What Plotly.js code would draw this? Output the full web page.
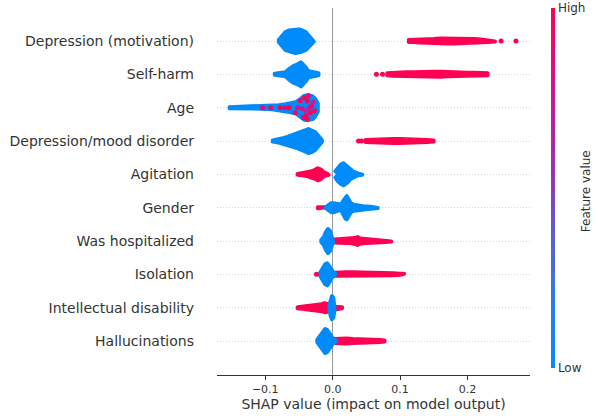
<!DOCTYPE html>
<html><head><meta charset="utf-8">
<script src="https://cdn.plot.ly/plotly-3.0.1.min.js"></script>
<style>html,body{margin:0;padding:0;background:#fff}
#chart path.js-line{stroke-linejoin:round;stroke-linecap:round}</style>
</head><body><div id="chart" style="width:598px;height:416px"></div>
<script>
// Features, top to bottom
const features = ["Depression (motivation)", "Self-harm", "Age", "Depression/mood disorder",
  "Agitation", "Gender", "Was hospitalized", "Isolation", "Intellectual disability", "Hallucinations"];

const xTickVals = [-0.1, 0, 0.1, 0.2];
const xTickText = ["\u22120.1", "0.0", "0.1", "0.2"];

// Swarm profiles: SHAP values along the swarm and swarm half-thickness (in rows)
// Depression (motivation)
const depMotLowX  = [-0.080, -0.075, -0.070, -0.065, -0.060, -0.055, -0.050, -0.045, -0.040, -0.035, -0.030, -0.028];
const depMotLowW  = [0.09, 0.21, 0.33, 0.375, 0.39, 0.42, 0.405, 0.375, 0.33, 0.21, 0.12, 0.075];
const depMotHighX = [0.113, 0.120, 0.130, 0.140, 0.150, 0.160, 0.170, 0.180, 0.190, 0.200, 0.210, 0.220, 0.230, 0.241];
const depMotHighW = [0.09, 0.09, 0.105, 0.12, 0.12, 0.135, 0.135, 0.135, 0.15, 0.135, 0.12, 0.105, 0.09, 0.075];
// Self-harm
const selfHarmLowX  = [-0.086, -0.070, -0.065, -0.059, -0.052, -0.047, -0.040, -0.036, -0.028, -0.021];
const selfHarmLowW  = [0.075, 0.12, 0.21, 0.30, 0.36, 0.42, 0.27, 0.15, 0.12, 0.09];
const selfHarmHighX = [0.081, 0.090, 0.100, 0.110, 0.120, 0.130, 0.140, 0.150, 0.160, 0.170, 0.180, 0.190, 0.200, 0.210, 0.220, 0.230];
const selfHarmHighW = [0.09, 0.105, 0.105, 0.12, 0.12, 0.135, 0.135, 0.135, 0.135, 0.12, 0.12, 0.12, 0.105, 0.105, 0.09, 0.09];
// Age
const ageLowX = [-0.153, -0.130, -0.107, -0.090, -0.080, -0.070, -0.062, -0.055, -0.050, -0.046, -0.042, -0.036, -0.030, -0.026, -0.022];
const ageLowW = [0.075, 0.09, 0.09, 0.105, 0.135, 0.165, 0.195, 0.225, 0.285, 0.36, 0.42, 0.435, 0.405, 0.33, 0.18];
// Depression/mood disorder
const depMoodLowX  = [-0.089, -0.080, -0.072, -0.067, -0.060, -0.053, -0.047, -0.041, -0.036, -0.031, -0.026, -0.021, -0.016];
const depMoodLowW  = [0.075, 0.105, 0.15, 0.18, 0.225, 0.27, 0.315, 0.375, 0.42, 0.39, 0.33, 0.21, 0.09];
const depMoodHighX = [0.049, 0.060, 0.070, 0.080, 0.090, 0.100, 0.110, 0.120, 0.130, 0.140, 0.150];
const depMoodHighW = [0.09, 0.105, 0.12, 0.12, 0.12, 0.12, 0.12, 0.105, 0.105, 0.09, 0.075];
// Agitation
const agitHighX = [-0.052, -0.045, -0.037, -0.031, -0.026, -0.022, -0.018, -0.013, -0.009, -0.006];
const agitHighW = [0.06, 0.09, 0.12, 0.15, 0.195, 0.24, 0.21, 0.12, 0.09, 0.075];
const agitLowX  = [0.004, 0.008, 0.012, 0.016, 0.022, 0.026, 0.030, 0.037, 0.044];
const agitLowW  = [0.15, 0.27, 0.345, 0.39, 0.30, 0.21, 0.15, 0.09, 0.06];
// Gender
const genderHighX = [-0.022, -0.016, -0.010];
const genderHighW = [0.075, 0.075, 0.075];
const genderLowX  = [-0.010, -0.006, -0.002, 0.002, 0.006, 0.010, 0.013, 0.016, 0.019, 0.021, 0.024, 0.027, 0.031, 0.037, 0.045, 0.056, 0.067];
const genderLowW  = [0.075, 0.15, 0.195, 0.195, 0.18, 0.135, 0.15, 0.27, 0.39, 0.405, 0.30, 0.195, 0.15, 0.12, 0.105, 0.09, 0.06];
// Was hospitalized
const hospLowX  = [-0.017, -0.013, -0.010, -0.007, -0.004, -0.0015, 0.001];
const hospLowW  = [0.09, 0.18, 0.33, 0.42, 0.36, 0.21, 0.09];
const hospHighX = [0.003, 0.012, 0.020, 0.027, 0.033, 0.037, 0.041, 0.049, 0.057, 0.064, 0.072, 0.079, 0.087];
const hospHighW = [0.105, 0.12, 0.12, 0.12, 0.15, 0.18, 0.135, 0.12, 0.105, 0.105, 0.09, 0.09, 0.075];
// Isolation
const isoLowX  = [-0.019, -0.015, -0.011, -0.008, -0.005, -0.002, 0.001, 0.004];
const isoLowW  = [0.09, 0.21, 0.36, 0.39, 0.30, 0.18, 0.12, 0.075];
const isoHighX = [0.004, 0.010, 0.020, 0.030, 0.040, 0.050, 0.060, 0.070, 0.080, 0.090, 0.100, 0.106];
const isoHighW = [0.105, 0.12, 0.12, 0.12, 0.12, 0.12, 0.105, 0.105, 0.09, 0.09, 0.075, 0.075];
// Intellectual disability
const intHighX = [-0.052, -0.046, -0.040, -0.033, -0.027, -0.021, -0.016, -0.012, -0.008, -0.004, 0.000, 0.004, 0.009, 0.014];
const intHighW = [0.075, 0.09, 0.09, 0.12, 0.135, 0.15, 0.165, 0.195, 0.18, 0.135, 0.12, 0.09, 0.09, 0.075];
const intLowX  = [-0.005, -0.003, -0.001, 0.001, 0.003];
const intLowW  = [0.12, 0.30, 0.405, 0.36, 0.12];
// Hallucinations
const hallLowX  = [-0.023, -0.018, -0.014, -0.011, -0.008, -0.005, -0.002, 0.001, 0.005];
const hallLowW  = [0.09, 0.21, 0.33, 0.42, 0.39, 0.30, 0.21, 0.12, 0.075];
const hallHighX = [0.004, 0.010, 0.020, 0.030, 0.040, 0.050, 0.060, 0.070, 0.077];
const hallHighW = [0.12, 0.135, 0.135, 0.12, 0.12, 0.105, 0.09, 0.09, 0.075];

// Individual points: feature row, SHAP value, swarm offset (rows), feature value (0 low .. 1 high)
const dotRow    = [0, 0, 1, 1, 3, 3, 7,
                   2, 2, 2, 2, 2, 2, 2, 2, 2, 2, 2, 2, 2, 2, 2, 2, 2, 2, 2, 2, 2];
const dotShap   = [0.250, 0.272, 0.065, 0.074, 0.0385, 0.043, -0.024,
                   -0.104, -0.092, -0.078, -0.071, -0.065, -0.0555, -0.052, -0.048, -0.042, -0.0376, -0.0346,
                   -0.040, -0.031, -0.045, -0.033, -0.027, -0.0435, -0.0376, -0.036, -0.029, -0.039];
const dotOffset = [0, 0, 0, 0, 0, 0, 0,
                   0, 0, 0, 0, 0, 0.15, 0, -0.21, -0.30, -0.21, 0,
                   0.24, -0.06, 0.03, 0.15, 0.09, 0.30, 0.33, -0.36, -0.18, 0.09];
const dotValue  = [1, 1, 1, 1, 1, 1, 1,
                   0.95, 0.9, 1, 0.9, 1, 0.95, 0.85, 1, 0.95, 1, 0.9,
                   1, 0.85, 0.8, 1, 0.9, 0.95, 1, 0.9, 0.7, 0.6];

const RED = '#ff0052', BLUE = '#008bfb';
const colorscale = [[0, '#008bfb'], [0.2, '#2c7bef'], [0.4, '#6a55d2'], [0.5, '#8c3bbd'],
                    [0.6, '#a82aa8'], [0.8, '#d8118a'], [1, '#ff0052']];

const profiles = [
  [0, RED, depMotHighX, depMotHighW], [0, BLUE, depMotLowX, depMotLowW],
  [1, RED, selfHarmHighX, selfHarmHighW], [1, BLUE, selfHarmLowX, selfHarmLowW],
  [2, BLUE, ageLowX, ageLowW],
  [3, RED, depMoodHighX, depMoodHighW], [3, BLUE, depMoodLowX, depMoodLowW],
  [4, RED, agitHighX, agitHighW], [4, BLUE, agitLowX, agitLowW],
  [5, RED, genderHighX, genderHighW], [5, BLUE, genderLowX, genderLowW],
  [6, RED, hospHighX, hospHighW], [6, BLUE, hospLowX, hospLowW],
  [7, RED, isoHighX, isoHighW], [7, BLUE, isoLowX, isoLowW],
  [8, RED, intHighX, intHighW], [8, BLUE, intLowX, intLowW],
  [9, RED, hallHighX, hallHighW], [9, BLUE, hallLowX, hallLowW]
];

const EDGE = 0.06; // half of outline stroke, in rows
const traces = profiles.map(([row, col, xs, ws]) => {
  const h = ws.map(w => Math.max(w - EDGE, 0.012));
  const x = xs.concat(xs.slice().reverse());
  const y = xs.map((_, i) => row - h[i]).concat(xs.map((_, i) => row + h[i]).reverse());
  return {type: 'scatter', mode: 'lines', x, y, fill: 'toself', fillcolor: col,
          line: {color: col, width: 4}, hoverinfo: 'skip', showlegend: false};
});

traces.push({
  type: 'scatter', mode: 'markers',
  x: dotShap, y: dotRow.map((r, i) => r + dotOffset[i]),
  marker: {size: 5, color: dotValue, colorscale, cmin: 0, cmax: 1, line: {width: 0},
    showscale: true,
    colorbar: {x: 1.067, xanchor: 'left', xpad: 0, ypad: 0, thickness: 4, thicknessmode: 'pixels',
      len: 0.981, lenmode: 'fraction', y: 0.019, yanchor: 'bottom', outlinewidth: 0,
      tickvals: [0, 1], ticktext: ['Low', 'High'], ticks: '',
      tickfont: {family: 'DejaVu Sans', size: 12, color: '#333'},
      title: {text: ''}}},
  hoverinfo: 'skip', showlegend: false
});

const layout = {
  width: 598, height: 416,
  margin: {l: 217, r: 68, t: 8, b: 41, pad: 0},
  paper_bgcolor: '#fff', plot_bgcolor: '#fff', showlegend: false,
  font: {family: 'DejaVu Sans', color: '#333'},
  xaxis: {range: [-0.1716, 0.2929], tickvals: xTickVals, ticktext: xTickText,
    showgrid: false, zeroline: true, zerolinecolor: '#999', zerolinewidth: 1.5,
    showline: true, linecolor: '#333', linewidth: 1, ticks: 'outside', ticklen: 3.5, tickcolor: '#333',
    tickfont: {family: 'DejaVu Sans', size: 11, color: '#333'},
    title: {text: 'SHAP value (impact on model output)', font: {family: 'DejaVu Sans', size: 14, color: '#333'}, standoff: 4}},
  yaxis: {range: [10.02, -0.99], tickvals: features.map((_, i) => i), ticktext: features,
    showgrid: true, gridcolor: '#d4d4d4', griddash: '1px,2px', gridwidth: 1,
    zeroline: false, showline: false, ticks: '', ticklabelstandoff: 22,
    tickfont: {family: 'DejaVu Sans', size: 14, color: '#333'}},
  annotations: [{text: 'Feature value', textangle: -90, xref: 'paper', yref: 'paper',
    x: 1.178, y: 0.5, xanchor: 'center', yanchor: 'middle', showarrow: false, borderpad: 0,
    font: {family: 'DejaVu Sans', size: 12, color: '#333'}}]
};

Plotly.newPlot('chart', traces, layout, {displayModeBar: false, staticPlot: true});
</script></body></html>
